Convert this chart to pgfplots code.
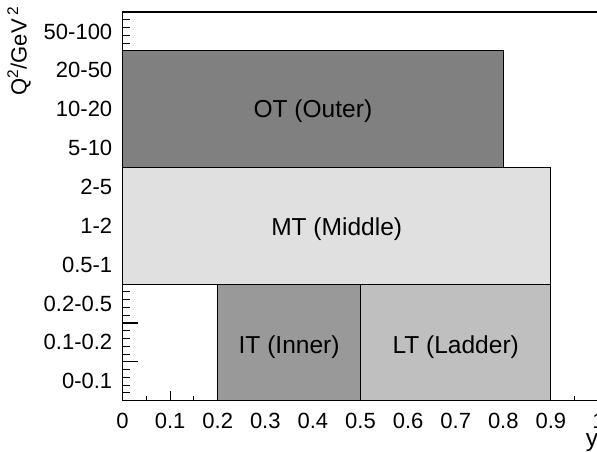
\documentclass[border=0pt]{standalone}
\usepackage{fontspec}
\setmainfont{Liberation Sans}
\usepackage{pgfplots}
\pgfplotsset{compat=1.18}
\definecolor{otgray}{gray}{0.50}
\definecolor{mtgray}{gray}{0.878}
\definecolor{itgray}{gray}{0.60}
\definecolor{ltgray}{gray}{0.75}
\newcommand{\tickfont}{\fontsize{16.5}{18}\selectfont}
\newcommand{\boxfont}{\fontsize{18.4}{20}\selectfont}
\begin{document}
\begin{tikzpicture}
% axis carrying only the ROOT-style y ticks (drawn first, under the boxes)
\begin{axis}[
  scale only axis, width=357pt, height=291.5pt,
  xmin=0, xmax=1, ymin=0, ymax=10,
  axis line style={draw=none},
  xtick=\empty,
  ytick={0,1,2,3,4,5,6,7,8,9,10},
  yticklabel=\empty,
  minor y tick num=4, yminorticks=true,
  tick align=inside, ytick pos=left,
  major tick length=11.8pt, minor tick length=5.8pt,
  major tick style={line width=0.8pt, black},
  minor tick style={line width=0.8pt, black},
]
\end{axis}
\begin{axis}[
  name=ax,
  scale only axis, width=357pt, height=291.5pt,
  xmin=0, xmax=1, ymin=0, ymax=10,
  axis line style={line width=1.1pt},
  xtick={0,0.1,0.2,0.3,0.4,0.5,0.6,0.7,0.8,0.9,1},
  minor x tick num=1,
  xticklabels={0,0.1,0.2,0.3,0.4,0.5,0.6,0.7,0.8,0.9,1},
  ytick={0.5,1.5,2.5,3.5,4.5,5.5,6.5,7.5,8.5,9.5},
  yticklabels={0-0.1,0.1-0.2,0.2-0.5,0.5-1,1-2,2-5,5-10,10-20,20-50,50-100},
  ytick style={draw=none},
  tick align=inside, xtick pos=lower, ytick pos=left,
  major tick length=7.3pt, minor tick length=3.5pt,
  tick style={line width=0.8pt, black},
  ticklabel style={font=\tickfont},
  xticklabel style={inner sep=0pt, anchor=north, yshift=-9.3pt},
  yticklabel style={inner sep=0pt, anchor=east, xshift=-7.5pt},
  clip=false,
]
\addplot[draw=black, line width=0.8pt, fill=otgray] coordinates {(0,6) (0.8,6) (0.8,9) (0,9) (0,6)};
\addplot[draw=black, line width=0.8pt, fill=mtgray] coordinates {(0,3) (0.9,3) (0.9,6) (0,6) (0,3)};
\addplot[draw=black, line width=0.8pt, fill=itgray] coordinates {(0.2,0) (0.5,0) (0.5,3) (0.2,3) (0.2,0)};
\addplot[draw=black, line width=0.8pt, fill=ltgray] coordinates {(0.5,0) (0.9,0) (0.9,3) (0.5,3) (0.5,0)};
\node[font=\boxfont] at (axis cs:0.40,7.46) {OT (Outer)};
\node[font=\boxfont] at (axis cs:0.45,4.41) {MT (Middle)};
\node[font=\boxfont] at (axis cs:0.35,1.38) {IT (Inner)};
\node[font=\boxfont] at (axis cs:0.70,1.38) {LT (Ladder)};
\coordinate (O) at (axis cs:0,0);
\coordinate (R) at (axis cs:1,0);
\end{axis}
\node[font=\tickfont, rotate=90, anchor=south east, inner sep=0pt] at ([xshift=-68.6pt, yshift=296pt]O) {Q\textsuperscript{2}/GeV\,\textsuperscript{2}};
\node[font=\boxfont, anchor=base east, inner sep=0pt] at ([yshift=-34pt]R) {y};
\pgfresetboundingbox
\path ([xshift=-91.875pt, yshift=-37.725pt]O) rectangle ++(447.75pt,338.25pt);
\end{tikzpicture}
\end{document}
